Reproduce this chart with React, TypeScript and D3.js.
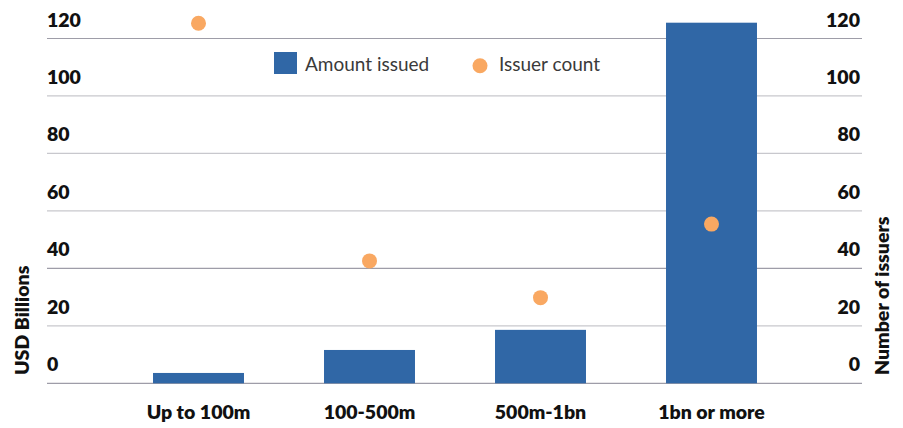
import React from "react";
import * as d3 from "d3";

const categories = ["Up to 100m", "100-500m", "500m-1bn", "1bn or more"];
const amountIssued = [3.6, 11.6, 18.6, 125.5];
const issuerCount = [125.3, 42.6, 29.8, 55.4];
const leftTicks = [0, 20, 40, 60, 80, 100, 120];
const rightTicks = [0, 20, 40, 60, 80, 100, 120];

const W = 903;
const H = 428;
const FONT = "Lato, 'Noto Sans', sans-serif";

export default function App() {
  const x = d3
    .scaleBand<string>()
    .domain(categories)
    .range([113, 797])
    .paddingInner(0.468)
    .paddingOuter(0.234);
  const yL = d3.scaleLinear().domain([0, 120]).range([383.3, 38.5]);
  const yR = d3.scaleLinear().domain([0, 120]).range([383.3, 38.5]);
  const barColor = "#3067a6";
  const dotColor = "#f9a862";
  const fs = 19.5;

  return (
    <svg
      width={W}
      height={H}
      style={{ position: "absolute", left: 0, top: 0 }}
      fontFamily={FONT}
    >
      <rect width={W} height={H} fill="#fff" />
      {leftTicks.map((t) => (
        <line
          key={"g" + t}
          x1={47}
          x2={862}
          y1={yL(t)}
          y2={yL(t)}
          stroke={t === 0 || t === 120 || t === 40 ? "#9e9da8" : "#c8c8cd"}
          strokeWidth={1.2}
        />
      ))}
      {categories.map((c, i) => (
        <rect
          key={"b" + c}
          x={x(c)}
          y={yL(amountIssued[i])}
          width={x.bandwidth()}
          height={yL(0) - yL(amountIssued[i])}
          fill={barColor}
        />
      ))}
      {categories.map((c, i) => (
        <circle
          key={"d" + c}
          cx={(x(c) as number) + x.bandwidth() / 2}
          cy={yR(issuerCount[i])}
          r={7.5}
          fill={dotColor}
        />
      ))}
      {leftTicks.map((t) => (
        <text
          key={"lt" + t}
          x={47}
          y={yL(t) - 12}
          fontSize={fs}
          fontWeight={800}
          fill="#111"
        >
          {t}
        </text>
      ))}
      {rightTicks.map((t) => (
        <text
          key={"rt" + t}
          x={860}
          y={yR(t) - 12}
          fontSize={fs}
          fontWeight={800}
          fill="#111"
          textAnchor="end"
        >
          {t}
        </text>
      ))}
      {categories.map((c) => (
        <text
          key={"c" + c}
          x={(x(c) as number) + x.bandwidth() / 2}
          y={419}
          fontSize={fs}
          fontWeight={800}
          fill="#111"
          textAnchor="middle"
        >
          {c}
        </text>
      ))}
      <text
        transform="translate(29,375) rotate(-90)"
        fontSize={fs}
        fontWeight={800}
        fill="#111"
      >
        USD Billions
      </text>
      <text
        transform="translate(889,375) rotate(-90)"
        fontSize={fs}
        fontWeight={800}
        fill="#111"
      >
        Number of issuers
      </text>
      <rect x={274} y={52} width={23} height={22} fill={barColor} />
      <text x={305} y={71} fontSize={19} fill="#3a3a3a">
        Amount issued
      </text>
      <circle cx={480} cy={65.7} r={7.5} fill={dotColor} />
      <text x={499} y={71} fontSize={19} fill="#3a3a3a">
        Issuer count
      </text>
    </svg>
  );
}
